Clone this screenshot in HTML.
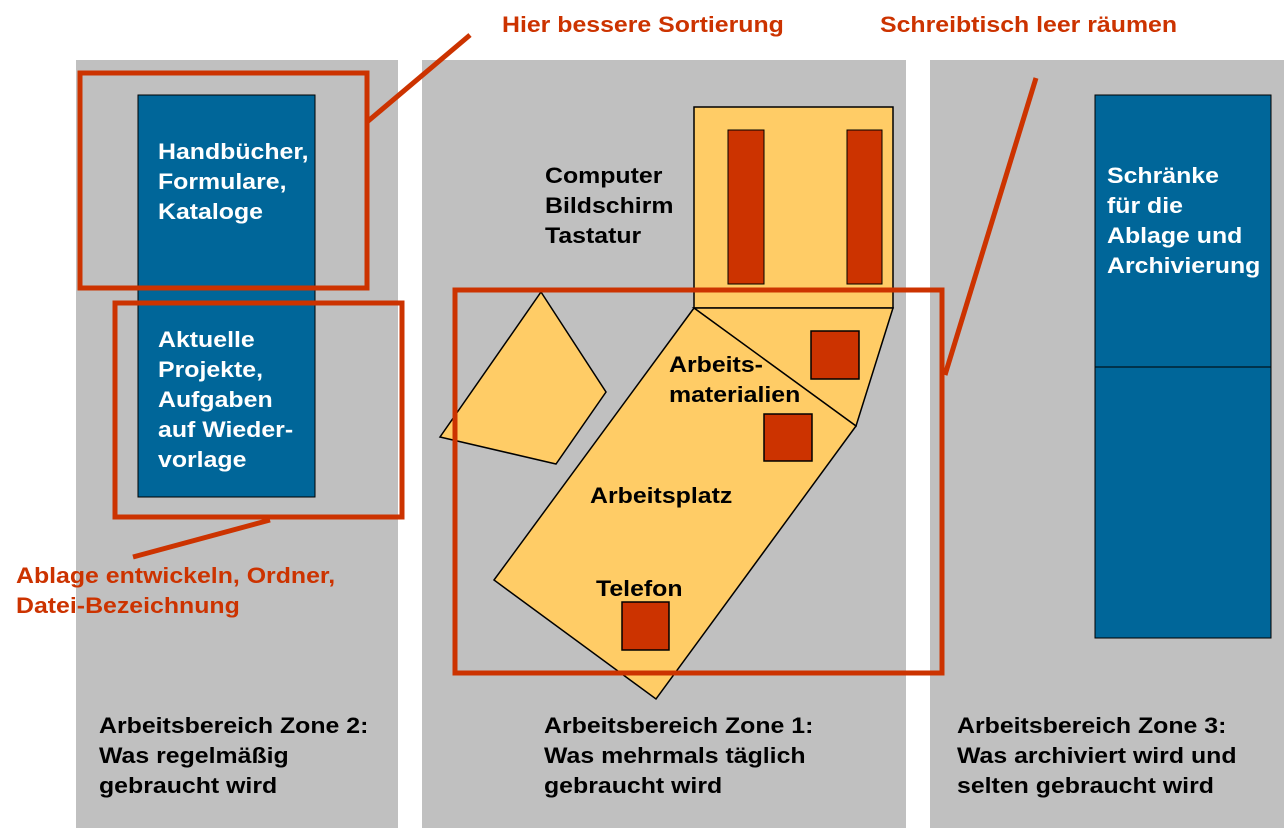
<!DOCTYPE html>
<html><head><style>
body{margin:0;width:1284px;height:828px;background:#fff;overflow:hidden;position:relative;font-family:"Liberation Sans",Arial,sans-serif;font-weight:bold;}
.t{position:absolute;font-size:22px;line-height:30px;white-space:nowrap;transform:scaleX(1.13);transform-origin:0 0}
</style></head><body>
<svg width="1284" height="828" style="position:absolute;left:0;top:0">
<rect x="76" y="60" width="322" height="768" fill="#c0c0c0"/>
<rect x="422" y="60" width="484" height="768" fill="#c0c0c0"/>
<rect x="930" y="60" width="354" height="768" fill="#c0c0c0"/>
<rect x="138" y="95" width="177" height="402" fill="#006699" stroke="#000" stroke-width="1"/>
<rect x="1095" y="95" width="176" height="543" fill="#006699" stroke="#000" stroke-width="1"/>
<line x1="1095" y1="367" x2="1271" y2="367" stroke="#000"/>
<rect x="694" y="107" width="199" height="201" fill="#ffcc66" stroke="#000" stroke-width="1.5"/>
<rect x="728" y="130" width="36" height="154" fill="#cc3300" stroke="#000"/>
<rect x="847" y="130" width="35" height="154" fill="#cc3300" stroke="#000"/>
<polygon points="694,308 893,308 856,426" fill="#ffcc66" stroke="#000" stroke-width="1.5"/>
<polygon points="694,308 494,580 656,699 856,426" fill="#ffcc66" stroke="#000" stroke-width="1.5"/>
<polygon points="541,292 606,392 556,464 440,437" fill="#ffcc66" stroke="#000" stroke-width="1.5"/>
<rect x="811" y="331" width="48" height="48" fill="#cc3300" stroke="#000" stroke-width="1.5"/>
<rect x="764" y="414" width="48" height="47" fill="#cc3300" stroke="#000" stroke-width="1.5"/>
<rect x="622" y="602" width="47" height="48" fill="#cc3300" stroke="#000" stroke-width="1.5"/>
<g fill="none" stroke="#cc3300" stroke-width="5">
<rect x="80" y="73" width="287" height="215"/>
<rect x="115" y="303" width="287" height="214"/>
<rect x="455" y="290" width="487" height="383"/>
<line x1="367" y1="122" x2="470" y2="35"/>
<line x1="270" y1="520" x2="133" y2="557"/>
<line x1="1036" y1="78" x2="945" y2="375"/>
</g>
</svg>
<div class="t" style="left:158px;top:137px;color:#fff">Handbücher,<br>Formulare,<br>Kataloge</div>
<div class="t" style="left:158px;top:325px;color:#fff">Aktuelle<br>Projekte,<br>Aufgaben<br>auf Wieder-<br>vorlage</div>
<div class="t" style="left:1107px;top:161px;color:#fff">Schränke<br>für die<br>Ablage und<br>Archivierung</div>
<div class="t" style="left:545px;top:161px">Computer<br>Bildschirm<br>Tastatur</div>
<div class="t" style="left:669px;top:350px">Arbeits-<br>materialien</div>
<div class="t" style="left:590px;top:481px">Arbeitsplatz</div>
<div class="t" style="left:596px;top:574px">Telefon</div>
<div class="t" style="left:99px;top:711px">Arbeitsbereich Zone 2:<br>Was regelmäßig<br>gebraucht wird</div>
<div class="t" style="left:544px;top:711px">Arbeitsbereich Zone 1:<br>Was mehrmals täglich<br>gebraucht wird</div>
<div class="t" style="left:957px;top:711px">Arbeitsbereich Zone 3:<br>Was archiviert wird und<br>selten gebraucht wird</div>
<div class="t" style="left:502px;top:10px;color:#cc3300">Hier bessere Sortierung</div>
<div class="t" style="left:880px;top:10px;color:#cc3300">Schreibtisch leer räumen</div>
<div class="t" style="left:16px;top:561px;color:#cc3300">Ablage entwickeln, Ordner,<br>Datei-Bezeichnung</div>
</body></html>
